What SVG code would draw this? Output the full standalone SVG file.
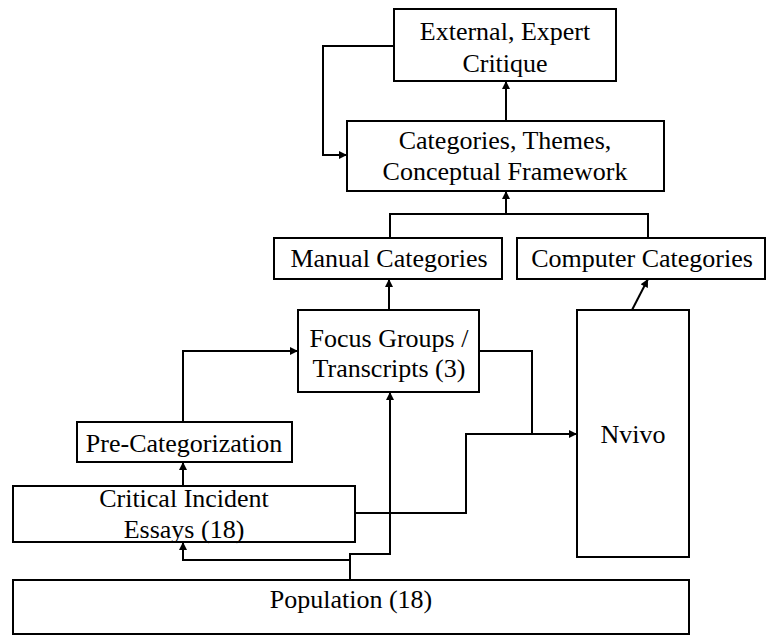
<svg xmlns="http://www.w3.org/2000/svg" width="769" height="635" viewBox="0 0 769 635">
<style>
.box{fill:#fff;stroke:#000;stroke-width:2}
.t{font-family:"Liberation Serif","Times New Roman",serif;font-size:26px;fill:#000;text-anchor:middle}
.c{fill:none;stroke:#000;stroke-width:2}
</style>
<defs>
<marker id="ah" viewBox="0 0 10 10" refX="10" refY="5" markerWidth="10" markerHeight="8" markerUnits="userSpaceOnUse" orient="auto">
<path d="M0,0 L10,5 L0,10 Z" fill="#000"/>
</marker>
</defs>
<rect width="769" height="635" fill="#fff"/>
<g id="external"><rect class="box" x="394" y="9" width="222" height="72"/><text class="t" x="505" y="40">External, Expert</text><text class="t" x="505" y="72">Critique</text></g>
<g id="categories"><rect class="box" x="347" y="121" width="317" height="70"/><text class="t" x="505" y="149">Categories, Themes,</text><text class="t" x="505" y="180">Conceptual Framework</text></g>
<g id="manual"><rect class="box" x="274" y="238" width="228" height="41"/><text class="t" x="389" y="267">Manual Categories</text></g>
<g id="computer"><rect class="box" x="517" y="238" width="248" height="41"/><text class="t" x="642" y="267">Computer Categories</text></g>
<g id="focus"><rect class="box" x="298" y="310" width="181" height="82"/><text class="t" x="389" y="347">Focus Groups /</text><text class="t" x="389" y="377">Transcripts (3)</text></g>
<g id="nvivo"><rect class="box" x="577" y="310" width="112" height="247"/><text class="t" x="633" y="443">Nvivo</text></g>
<g id="precat"><rect class="box" x="77" y="422" width="215" height="40"/><text class="t" x="184" y="452">Pre-Categorization</text></g>
<g id="critical"><rect class="box" x="13" y="486" width="342" height="56"/><text class="t" x="184" y="507">Critical Incident</text><text class="t" x="184" y="538">Essays (18)</text></g>
<g id="population"><rect class="box" x="13" y="580" width="676" height="54"/><text class="t" x="351" y="608">Population (18)</text></g>
<g id="connectors">
<path class="c" d="M506,121 V81" marker-end="url(#ah)"/>
<path class="c" d="M394,46 H323 V155 H347" marker-end="url(#ah)"/>
<path class="c" d="M390,238 V214 H648 V238"/>
<path class="c" d="M506,214 V191" marker-end="url(#ah)"/>
<path class="c" d="M389,310 V279" marker-end="url(#ah)"/>
<path class="c" d="M632,310 L648,279" marker-end="url(#ah)"/>
<path class="c" d="M479,351 H532 V434"/>
<path class="c" d="M355,513 H466 V434 H577" marker-end="url(#ah)"/>
<path class="c" d="M183,422 V351 H298" marker-end="url(#ah)"/>
<path class="c" d="M183,486 V462" marker-end="url(#ah)"/>
<path class="c" d="M350,580 V554 H390 V392" marker-end="url(#ah)"/>
<path class="c" d="M350,560 H183 V542" marker-end="url(#ah)"/>
</g>
</svg>
